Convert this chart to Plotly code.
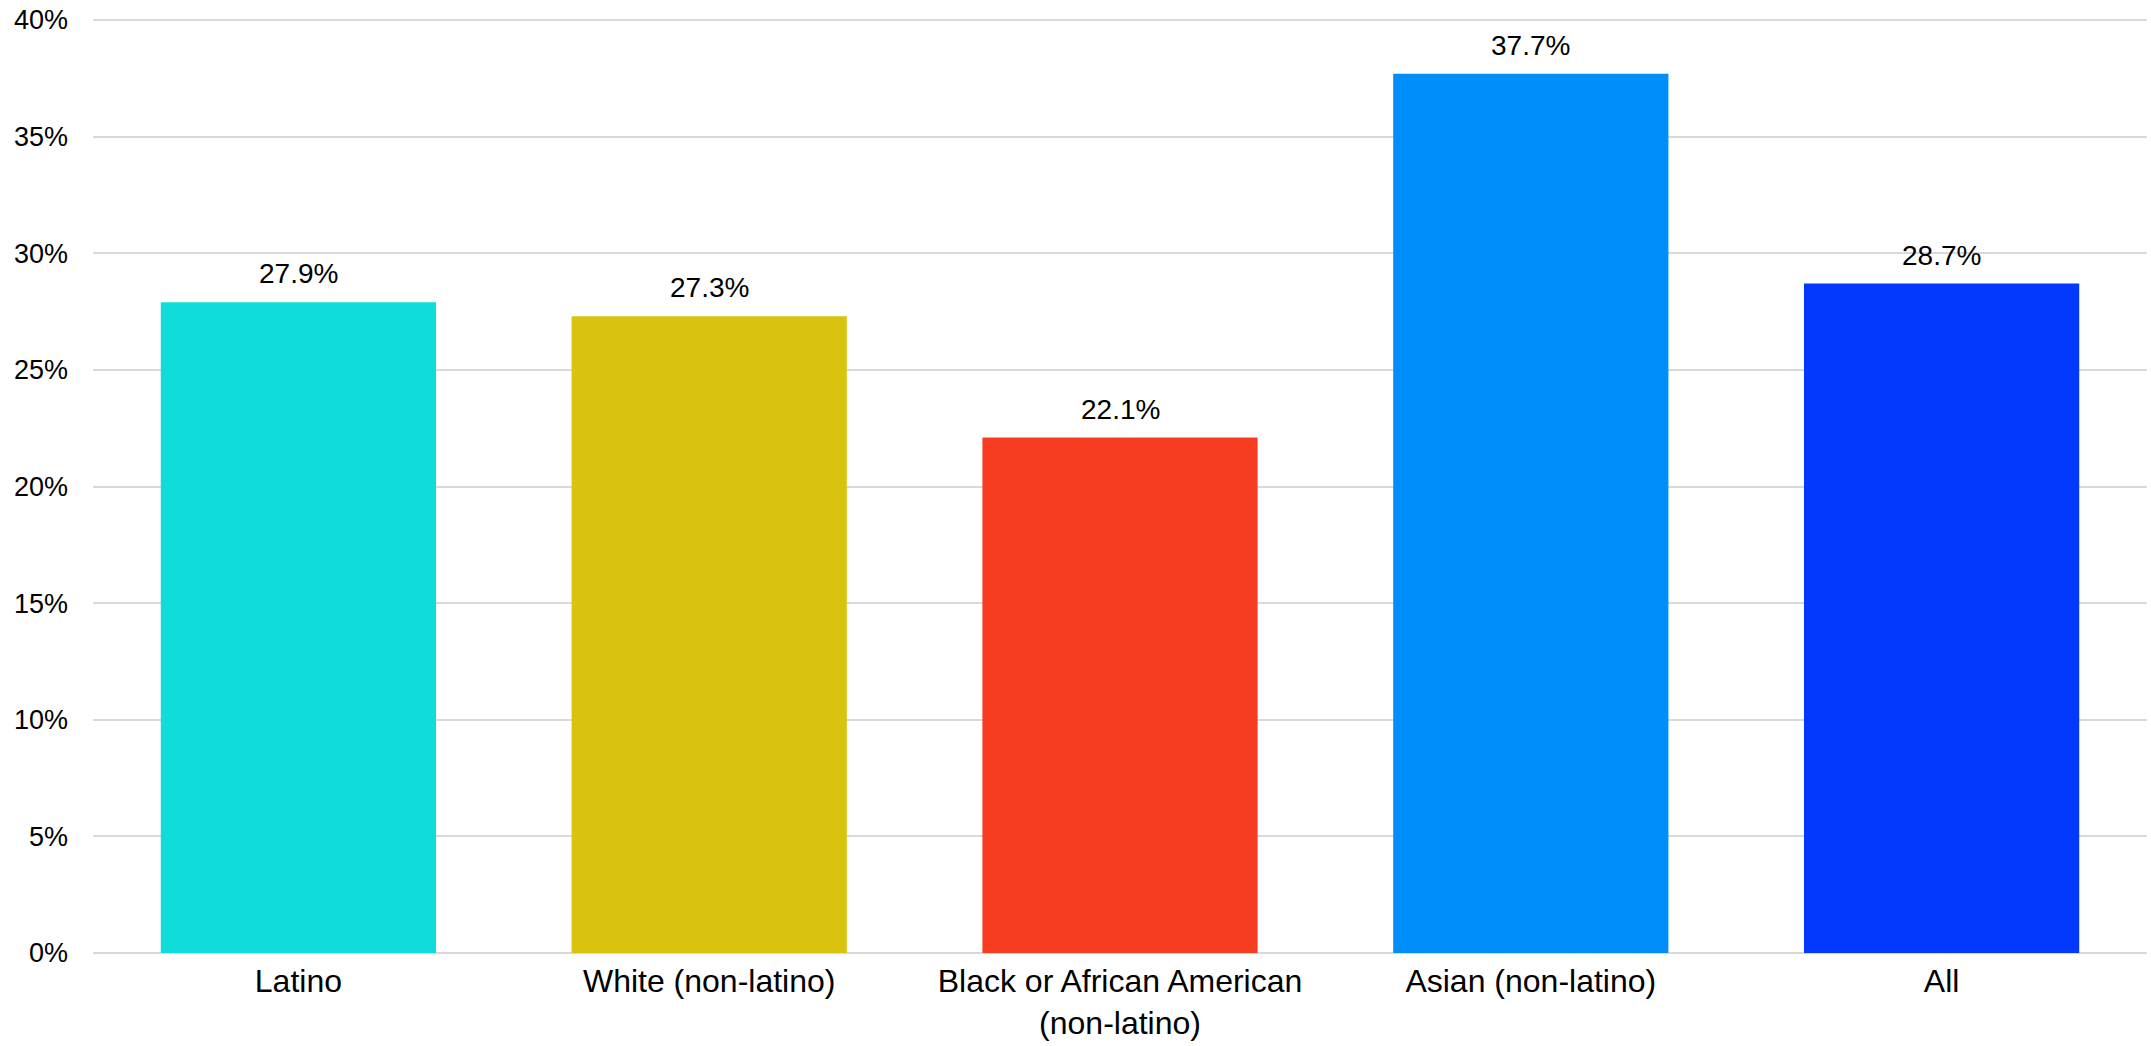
import plotly.graph_objects as go

# Data
groups = ["Latino", "White (non-latino)", "Black or African American<br>(non-latino)",
          "Asian (non-latino)", "All"]
shares = [27.9, 27.3, 22.1, 37.7, 28.7]
bar_colors = ["#10DCDC", "#DAC30F", "#F73D21", "#008FFA", "#0339FF"]
y_ticks = [0, 5, 10, 15, 20, 25, 30, 35, 40]
y_tick_text = [f"{t}%" for t in y_ticks]

FONT = "Liberation Sans, Arial, sans-serif"

fig = go.Figure()
fig.add_trace(go.Bar(x=groups, y=shares, marker=dict(color=bar_colors, line=dict(width=0)),
                     hoverinfo="x+y"))

# value labels above the bars
for g, v in zip(groups, shares):
    fig.add_annotation(x=g, y=v, text=f"{v:.1f}%", showarrow=False,
                       yanchor="bottom", yshift=11,
                       font=dict(family=FONT, size=28, color="#000000"))

fig.update_layout(
    width=2151, height=1046,
    margin=dict(l=93, r=4, t=18, b=93, autoexpand=False),
    paper_bgcolor="white", plot_bgcolor="white",
    bargap=0.33, showlegend=False,
    font=dict(family=FONT, color="#000000"),
)
fig.update_xaxes(tickfont=dict(size=32, family=FONT, color="#000000"),
                 showgrid=False, showline=False, ticks="", automargin=False,
                 ticklabelstandoff=6)
# small headroom above 40% so its grid line is drawn
fig.update_yaxes(range=[0, 40.086], tickvals=y_ticks, ticktext=y_tick_text,
                 tickfont=dict(size=27, family=FONT, color="#000000"),
                 showgrid=True, gridcolor="#D9D9D9", gridwidth=2,
                 zeroline=True, zerolinecolor="#D9D9D9", zerolinewidth=2,
                 showline=False, ticks="", ticklabelstandoff=24, automargin=False)

# drop the page's default body margin so the figure sits at the window corner
fig.write_html("out.html", config={"displayModeBar": False},
               post_script="document.body.style.margin='0';")
